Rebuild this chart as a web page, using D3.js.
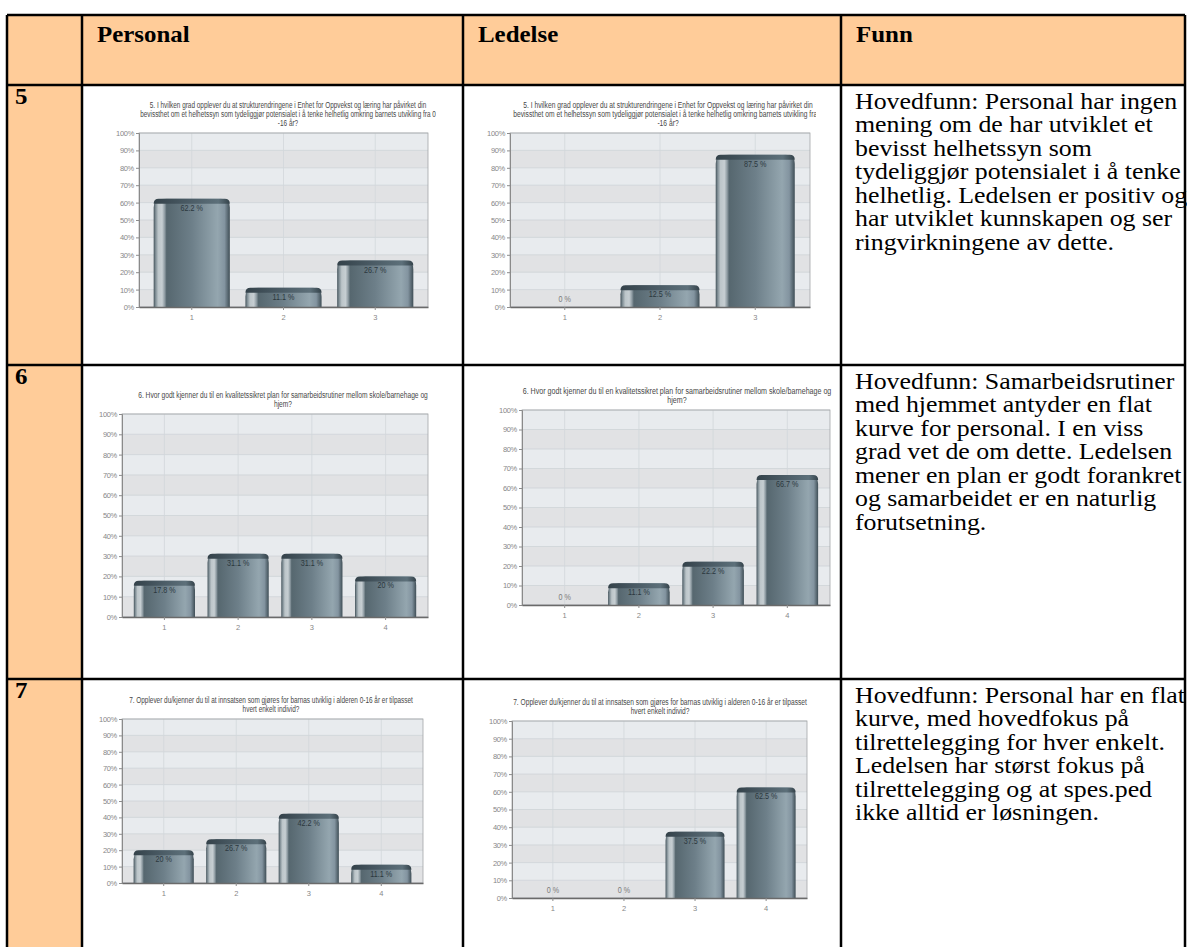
<!DOCTYPE html>
<html>
<head>
<meta charset="utf-8">
<script src="https://cdn.jsdelivr.net/npm/d3@7"></script>
<style>
  body { margin: 0; background: #fff; }
  svg { display: block; }
</style>
</head>
<body>
<div id="chart"></div>
<script>
// ---- data ----
const headers = ['Personal', 'Ledelse', 'Funn'];
const rowLabels = ['5', '6', '7'];
const categories = [['1', '2', '3'], ['1', '2', '3', '4'], ['1', '2', '3', '4']];
const personalValues = [[62.2, 11.1, 26.7], [17.8, 31.1, 31.1, 20], [20, 26.7, 42.2, 11.1]];
const ledelseValues = [[0, 12.5, 87.5], [0, 11.1, 22.2, 66.7], [0, 0, 37.5, 62.5]];
const yTicks = [0, 10, 20, 30, 40, 50, 60, 70, 80, 90, 100];
const titleLines = [
  ['5. I hvilken grad opplever du at strukturendringene i Enhet for Oppvekst og læring har påvirket din',
   'bevissthet om et helhetssyn som tydeliggjør potensialet i å tenke helhetlig omkring barnets utvikling fra 0',
   '-16 år?'],
  ['6. Hvor godt kjenner du til en kvalitetssikret plan for samarbeidsrutiner mellom skole/barnehage og',
   'hjem?'],
  ['7. Opplever du/kjenner du til at innsatsen som gjøres for barnas utviklig i alderen 0-16 år er tilpasset',
   'hvert enkelt individ?']
];
const funnLines = [
  ['Hovedfunn: Personal har ingen', 'mening om de har utviklet et', 'bevisst helhetssyn som',
   'tydeliggjør potensialet i å tenke', 'helhetlig. Ledelsen er positiv og',
   'har utviklet kunnskapen og ser', 'ringvirkningene av dette.'],
  ['Hovedfunn: Samarbeidsrutiner', 'med hjemmet antyder en flat', 'kurve for personal. I en viss',
   'grad vet de om dette. Ledelsen', 'mener en plan er godt forankret',
   'og samarbeidet er en naturlig', 'forutsetning.'],
  ['Hovedfunn: Personal har en flat', 'kurve, med hovedfokus på', 'tilrettelegging for hver enkelt.',
   'Ledelsen har størst fokus på', 'tilrettelegging og at spes.ped', 'ikke alltid er løsningen.']
];

// ---- layout ----
const width = 1187, height = 947;
const colX = [7, 82, 463, 841, 1185];
const rowY = [15, 85, 365, 679, 980];
const chartLayout = [
  [{ x0: 139, x1: 428, y0: 133, y1: 307, cx: 288, w1: 277, clipX: 436 },
   { x0: 510, x1: 810, y0: 133, y1: 307, cx: 668, w1: 290, clipX: 816 }],
  [{ x0: 122, x1: 428, y0: 414, y1: 617, cx: 283, w1: 290, clipX: 460 },
   { x0: 522, x1: 830, y0: 410, y1: 605, cx: 677, w1: 309, clipX: 838 }],
  [{ x0: 122, x1: 423, y0: 719, y1: 883, cx: 271, w1: 284, clipX: 460 },
   { x0: 512, x1: 807, y0: 721, y1: 898, cx: 660, w1: 294, clipX: 838 }]
];
const peach = '#FFCC99';
const serif = '"Liberation Serif", "Times New Roman", Times, serif';
const narrow = '"Liberation Sans Narrow", "Arial Narrow", "Liberation Sans", Arial, sans-serif';

const svg = d3.select('#chart').append('svg')
  .attr('width', width)
  .attr('height', height);

const defs = svg.append('defs');

const barGrad = defs.append('linearGradient').attr('id', 'barGrad')
  .attr('x1', 0).attr('x2', 1).attr('y1', 0).attr('y2', 0);
[[0, '#44535b'], [0.025, '#7f8d94'], [0.06, '#bcc5c9'], [0.11, '#c6ced2'], [0.145, '#8e9ba2'],
 [0.17, '#56676f'], [0.5, '#6d7f89'], [0.84, '#94a6af'], [0.93, '#8394a0'], [1, '#3f4e56']]
  .forEach(([o, c]) => barGrad.append('stop').attr('offset', o).attr('stop-color', c));

const capGrad = defs.append('linearGradient').attr('id', 'capGrad')
  .attr('x1', 0).attr('x2', 1).attr('y1', 0).attr('y2', 0);
[[0, '#34424a'], [0.5, '#4c5d67'], [0.85, '#5d707a'], [1, '#34424a']]
  .forEach(([o, c]) => capGrad.append('stop').attr('offset', o).attr('stop-color', c));

// ---- table ----
svg.append('rect').attr('x', colX[0]).attr('y', rowY[0])
  .attr('width', colX[4] - colX[0]).attr('height', rowY[1] - rowY[0]).attr('fill', peach);
svg.append('rect').attr('x', colX[0]).attr('y', rowY[1])
  .attr('width', colX[1] - colX[0]).attr('height', height - rowY[1]).attr('fill', peach);

headers.forEach((h, i) => {
  svg.append('text')
    .attr('transform', `translate(${colX[i + 1] + 15},42) scale(1.06,1)`)
    .attr('font-family', serif).attr('font-weight', 'bold').attr('font-size', 23.5)
    .text(h);
});

rowLabels.forEach((r, i) => {
  svg.append('text')
    .attr('transform', `translate(${colX[0] + 8},${rowY[i + 1] + 19}) scale(1.06,1)`)
    .attr('font-family', serif).attr('font-weight', 'bold').attr('font-size', 23.5)
    .text(r);
});

funnLines.forEach((lines, i) => {
  const g = svg.append('g')
    .attr('transform', `translate(${colX[3] + 14},${rowY[i + 1] + 24}) scale(1.1,1)`);
  g.selectAll('text').data(lines).join('text')
    .attr('y', (d, j) => j * 23.5)
    .attr('font-family', serif).attr('font-size', 23.5).attr('fill', '#000')
    .text(d => d);
});

// ---- charts ----
function barPath(x0, y0, w, h) {
  const r = Math.min(9, h, w / 2);
  return `M${x0},${y0 + h}V${y0 + r}Q${x0},${y0} ${x0 + r},${y0}H${x0 + w - r}Q${x0 + w},${y0} ${x0 + w},${y0 + r}V${y0 + h}Z`;
}

function drawChart(box, cats, values, lines, rowIdx, colIdx) {
  const clipId = `clip${rowIdx}${colIdx}`;
  defs.append('clipPath').attr('id', clipId).append('rect')
    .attr('x', colX[colIdx + 1] + 2).attr('y', rowY[rowIdx + 1] + 2)
    .attr('width', box.clipX - colX[colIdx + 1] - 2)
    .attr('height', rowY[rowIdx + 2] - rowY[rowIdx + 1] - 4);
  const g = svg.append('g').attr('clip-path', `url(#${clipId})`);

  const x = d3.scaleBand().domain(cats).range([box.x0, box.x1])
    .paddingInner(0.17).paddingOuter(0.16);
  const y = d3.scaleLinear().domain([0, 100]).range([box.y1, box.y0]);

  // background bands
  g.selectAll('rect.band').data(yTicks.slice(1)).join('rect')
    .attr('x', box.x0).attr('width', box.x1 - box.x0)
    .attr('y', d => y(d)).attr('height', d => y(d - 10) - y(d))
    .attr('fill', d => (d / 10) % 2 === 0 ? '#e8ebee' : '#e1e2e4');

  // grid
  g.selectAll('line.hgrid').data(yTicks).join('line')
    .attr('x1', box.x0).attr('x2', box.x1)
    .attr('y1', d => y(d)).attr('y2', d => y(d))
    .attr('stroke', '#cdd2d6').attr('stroke-width', 0.8);
  g.selectAll('line.vgrid').data(cats).join('line')
    .attr('x1', d => x(d) + x.bandwidth() / 2).attr('x2', d => x(d) + x.bandwidth() / 2)
    .attr('y1', box.y0).attr('y2', box.y1)
    .attr('stroke', '#d2d7db').attr('stroke-width', 0.8);

  g.append('rect').attr('x', box.x0).attr('y', box.y0)
    .attr('width', box.x1 - box.x0).attr('height', box.y1 - box.y0)
    .attr('fill', 'none').attr('stroke', '#a3a6a8').attr('stroke-width', 0.8);

  // bars
  const data = cats.map((c, i) => ({ c, v: values[i] }));
  const bars = g.selectAll('g.bar').data(data.filter(d => d.v > 0)).join('g');
  bars.append('path')
    .attr('d', d => barPath(x(d.c), y(d.v), x.bandwidth(), y(0) - y(d.v)))
    .attr('fill', 'url(#barGrad)');
  bars.append('path')
    .attr('d', d => barPath(x(d.c), y(d.v), x.bandwidth(), Math.min(5, y(0) - y(d.v))))
    .attr('fill', 'url(#capGrad)');

  // value labels
  g.selectAll('text.val').data(data).join('text')
    .attr('x', d => x(d.c) + x.bandwidth() / 2)
    .attr('y', d => d.v > 0 ? y(d.v) + 12 : y(0) - 5)
    .attr('text-anchor', 'middle')
    .attr('font-family', narrow).attr('font-size', 8.5)
    .attr('transform', d => `translate(${(x(d.c) + x.bandwidth() / 2) * 0.15},0) scale(0.85,1)`)
    .attr('fill', d => d.v > 0 ? '#2c383e' : '#7a7a7a')
    .text(d => `${d.v} %`);

  // axes
  const yAxis = g.append('g').attr('transform', `translate(${box.x0},0)`)
    .call(d3.axisLeft(y).tickValues(yTicks).tickFormat(d => d + '%').tickSize(3).tickPadding(2));
  const xAxis = g.append('g').attr('transform', `translate(0,${box.y1})`)
    .call(d3.axisBottom(x).tickSize(3).tickPadding(5).tickSizeOuter(0));
  [yAxis, xAxis].forEach(a => {
    a.selectAll('text').attr('font-family', narrow).attr('font-size', 7.5).attr('fill', '#878787');
    a.selectAll('line').attr('stroke', '#8c8c8c');
  });
  yAxis.selectAll('text').attr('textLength', null).attr('letter-spacing', -0.3);
  yAxis.select('.domain').attr('stroke', '#8a8a8a');
  xAxis.select('.domain').attr('stroke', '#6a6a6a').attr('stroke-width', 1.3);

  // title
  const tg = g.append('g');
  tg.selectAll('text').data(lines).join('text')
    .attr('x', 0).attr('y', (d, j) => j * 9)
    .attr('text-anchor', 'middle')
    .attr('font-family', narrow).attr('font-size', 9).attr('fill', '#474747')
    .text(d => d);
  const natural = tg.select('text').node().getComputedTextLength();
  const sx = box.w1 / natural;
  const firstBase = box.y0 - 7 - (lines.length - 1) * 9;
  tg.attr('transform', `translate(${box.cx},${firstBase}) scale(${sx},1)`);
}

categories.forEach((cats, i) => {
  drawChart(chartLayout[i][0], cats, personalValues[i], titleLines[i], i, 0);
  drawChart(chartLayout[i][1], cats, ledelseValues[i], titleLines[i], i, 1);
});

// borders
const border = svg.append('g').attr('stroke', '#000').attr('stroke-width', 2.5);
border.selectAll('line.v').data(colX).join('line')
  .attr('x1', d => d).attr('x2', d => d).attr('y1', rowY[0]).attr('y2', height);
border.selectAll('line.h').data(rowY.slice(0, 4)).join('line')
  .attr('x1', colX[0]).attr('x2', colX[4]).attr('y1', d => d).attr('y2', d => d);
</script>
</body>
</html>
